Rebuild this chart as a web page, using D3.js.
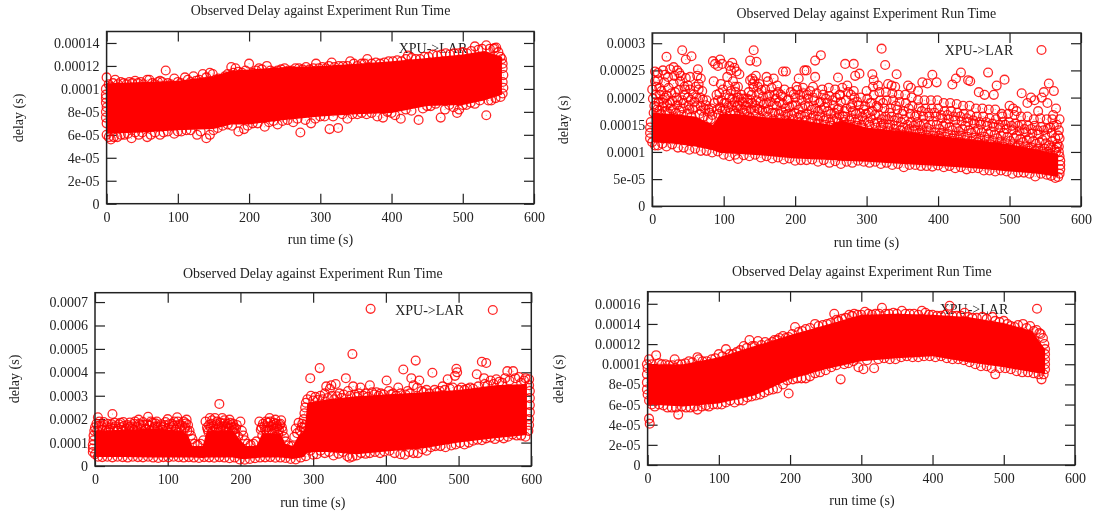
<!DOCTYPE html>
<html>
<head>
<meta charset="utf-8">
<script src="https://cdnjs.cloudflare.com/ajax/libs/d3/7.8.5/d3.min.js"></script>
<style>
html,body{margin:0;padding:0;background:#fff;}
svg{display:block;filter:blur(0.35px);}
text{font-family:"Liberation Serif",serif;fill:#222;}
</style>
</head>
<body>
<script>
"use strict";

// all delays below are in microseconds, run time in seconds
var xTicks = [0,100,200,300,400,500,600];
var xLabels = ["0","100","200","300","400","500","600"];

var yTicks1 = [0,20,40,60,80,100,120,140];
var yLabels1 = ["0","2e-05","4e-05","6e-05","8e-05","0.0001","0.00012","0.00014"];
var yTicks2 = [0,50,100,150,200,250,300];
var yLabels2 = ["0","5e-05","0.0001","0.00015","0.0002","0.00025","0.0003"];
var yTicks3 = [0,100,200,300,400,500,600,700];
var yLabels3 = ["0","0.0001","0.0002","0.0003","0.0004","0.0005","0.0006","0.0007"];
var yTicks4 = [0,20,40,60,80,100,120,140,160];
var yLabels4 = ["0","2e-05","4e-05","6e-05","8e-05","0.0001","0.00012","0.00014","0.00016"];

// solid part of each cloud, where the rings overlap completely
var coreTime1 = [0,50,100,150,175,200,250,300,350,400,450,500,530,555];
var coreHigh1 = [105,106,107,111,116,117,119,120,122,124,127,130,133,128];
var coreLow1 = [61,62,64,65,69,69,73,76,78,79,85,86,90,95];

var coreTime2 = [0,30,60,85,95,120,150,200,250,265,300,350,400,450,500,540,568];
var coreHigh2 = [172,170,165,150,170,170,165,160,150,158,145,138,130,122,114,104,96];
var coreLow2 = [118,115,110,103,98,96,94,88,85,84,82,78,74,70,64,60,54];

var coreTime3 = [0,40,80,120,128,134,148,154,190,200,208,222,230,255,262,272,280,288,292,320,360,400,450,500,550,594];
var coreHigh3 = [150,155,160,150,130,85,85,150,150,110,85,85,140,140,95,85,130,150,270,285,298,305,315,325,345,350];
var coreLow3 = [38,38,36,36,36,36,34,36,36,30,30,34,36,36,34,30,34,40,60,60,50,62,75,100,118,132];

var coreTime4 = [0,50,100,150,200,250,300,350,400,450,500,540,558];
var coreHigh4 = [100,100,107,118,129,139,149,150,149,147,141,133,115];
var coreLow4 = [60,58,61,69,85,95,103,106,108,102,97,92,90];

var rings1 = [[0,110],[3,104],[6,102],[9,105],[12,108],[16,104],[20,106],[24,105],[28,104],[32,106],[36,105],[40,107],[44,105],[48,106],[52,104],[57,108],[60,108],[64,105],[68,104],[72,106],[75,107],[78,106],[83,116],[86,105],[90,104],[95,109],[100,106],[104,105],[110,110],[114,108],[118,106],[122,111],[126,107],[130,108],[135,113],[140,110],[145,114],[149,113],[153,108],[157,109],[162,108],[166,111],[170,113],[175,119],[178,114],[181,118],[185,115],[190,114],[195,116],[200,122],[205,114],[210,116],[214,118],[218,117],[225,120],[230,116],[235,115],[240,116],[245,117],[250,118],[255,116],[260,116],[265,118],[270,118],[275,117],[280,119],[285,117],[294,122],[290,118],[298,118],[303,119],[308,118],[316,123],[312,120],[320,119],[326,120],[332,120],[338,120],[342,124],[347,122],[352,120],[358,122],[366,126],[362,122],[372,122],[378,123],[384,122],[390,123],[396,124],[402,124],[408,125],[414,124],[423,129],[420,126],[428,127],[434,126],[440,126],[446,128],[452,128],[458,130],[464,129],[470,130],[476,131],[482,130],[488,131],[494,131],[500,132],[506,131],[512,133],[517,137],[522,134],[527,135],[533,138],[538,135],[543,135],[547,136],[550,132],[553,128],[555,126],[556,122],
[0,60],[3,58],[6,56],[10,58],[15,58],[20,60],[25,60],[30,61],[35,57],[40,62],[45,60],[50,62],[57,58],[62,60],[68,62],[75,60],[80,62],[86,63],[95,61],[100,63],[105,63],[112,64],[118,64],[127,60],[132,63],[140,57],[145,60],[150,64],[156,66],[163,68],[170,69],[176,68],[185,63],[193,65],[198,68],[205,70],[212,70],[222,67],[228,71],[234,72],[240,69],[247,72],[254,73],[262,71],[268,74],[272,62],[279,73],[287,70],[293,74],[300,76],[306,76],[313,65],[318,76],[325,66],[331,78],[338,74],[345,78],[352,78],[358,79],[365,78],[372,79],[380,76],[388,75],[394,80],[400,79],[405,77],[413,74],[420,82],[428,81],[438,73],[444,83],[450,85],[455,85],[462,87],[469,75],[475,82],[481,86],[487,84],[492,79],[495,82],[500,86],[505,86],[511,88],[517,87],[524,90],[533,77],[536,90],[540,90],[546,92],[553,93],[556,96],
[-1,100],[-1,95],[-1,88],[-1,80],[-1,75],[0,70],[-1,92],[0,84],[556,118],[557,112],[556,106],[557,101]];

var rings2 = [[-3,125],[-3,135],[-3,145],[-2,155],[0,118],[4,112],[8,112],[14,115],[20,110],[28,114],[36,108],[44,108],[52,104],[60,106],[68,102],[76,102],[84,99],[92,101],[100,95],[108,92],[116,95],[120,87],[128,94],[136,92],[144,95],[152,90],[160,92],[168,88],[176,90],[184,86],[192,88],[200,84],[208,85],[216,85],[224,86],[232,82],[240,85],[248,80],[256,83],[264,78],[272,82],[280,80],[288,84],[296,82],[304,80],[312,82],[320,78],[328,80],[336,76],[344,78],[352,72],[360,76],[368,76],[376,74],[384,74],[392,73],[400,75],[408,72],[416,74],[424,70],[432,72],[440,68],[448,70],[456,70],[464,66],[472,66],[480,64],[488,66],[496,64],[504,60],[512,62],[520,62],[528,60],[536,55],[544,60],[552,58],[558,56],[564,52],[568,54],[570,60],[571,68],[571,76],[571,84],[570,92],[569,100],[566,108],
[20,275],[42,287],[47,270],[55,276],[64,252],[4,248],[8,245],[15,250],[18,242],[22,238],[0,215],[6,220],[10,218],[25,252],[30,256],[35,250],[38,245],[40,240],[45,220],[50,222],[53,238],[65,225],[68,235],[85,267],[88,262],[92,258],[95,270],[98,262],[108,258],[110,250],[112,264],[115,255],[118,248],[122,243],[120,220],[116,220],[137,268],[142,287],[146,266],[145,240],[137,232],[140,235],[143,230],[150,225],[160,238],[162,230],[170,235],[183,248],[187,248],[205,235],[213,250],[216,250],[228,268],[236,278],[228,238],[225,220],[260,237],[270,262],[282,262],[284,240],[290,244],[308,243],[310,232],[316,222],[321,290],[326,260],[342,243],[330,225],[335,222],[340,220],[358,222],[362,218],[372,212],[378,228],[385,226],[392,242],[398,228],[420,224],[425,235],[432,246],[442,232],[445,230],[470,246],[493,233],[478,205],[482,222],[457,210],[465,205],[517,208],[535,195],[545,200],[555,226],[548,210],[562,212],[565,180],[553,190],[530,200],[525,190],[500,185],[505,180],[490,165],[510,175],[540,175],[560,160],
[2,172],[3,185],[1,198],[5,205],[4,230],[7,178],[9,192],[11,205],[8,232],[12,170],[14,183],[15,196],[13,212],[17,228],[19,175],[21,188],[20,204],[23,218],[24,170],[26,180],[28,194],[27,208],[30,226],[31,240],[33,172],[35,186],[34,200],[37,214],[39,230],[41,168],[43,180],[42,195],[45,205],[47,236],[49,170],[51,186],[50,200],[53,215],[55,165],[57,178],[59,192],[58,206],[61,220],[63,240],[66,170],[68,184],[67,200],[70,212],[72,165],[74,178],[76,195],[78,160],[80,172],[82,160],[84,168],[87,190],[90,205],[86,230],
[93,170],[95,182],[97,195],[94,208],[96,225],[99,215],[100,165],[102,178],[104,190],[103,205],[106,222],[105,238],[109,172],[111,185],[112,198],[110,212],[113,230],[116,170],[118,182],[119,200],[117,210],[122,168],[124,180],[126,192],[125,205],[129,172],[131,185],[133,198],[135,210],[136,165],[138,178],[140,190],[139,205],[142,218],[141,225],[145,168],[147,180],[146,195],[149,208],[148,220],[152,162],[154,175],[156,188],[155,202],[158,215],[161,165],[163,178],[165,192],[164,205],[167,218],[170,160],[172,172],[174,185],[173,198],[176,210],[175,222],[179,162],[181,175],[183,188],[182,202],[185,215],[188,158],[190,170],[192,183],[191,197],[194,210],[197,160],[199,172],[201,186],[200,200],[203,214],[202,220],[206,155],[208,168],[210,182],[209,195],[212,208],[211,218],[215,158],[217,170],[219,184],[218,198],[221,212],[224,155],[226,167],[228,180],[227,195],[230,208],[233,152],[235,165],[237,178],[236,192],[239,205],[238,215],[242,150],[244,162],[246,175],[245,190],[248,203],[247,218],[251,148],[253,160],[255,172],[254,186],[257,200],[256,215],[260,155],[262,168],[261,180],[264,192],[263,205],[266,218],[268,155],[270,165],[272,180],[271,195],[274,210],[273,222],[277,150],[279,162],[281,175],[280,188],[283,200],[282,212],[286,148],[288,160],[290,172],[289,186],[292,200],[295,145],[297,157],[299,170],[298,184],[301,198],[300,212],
[304,150],[306,162],[308,175],[307,190],[310,205],[309,220],[313,145],[315,155],[317,168],[316,182],[319,195],[318,210],[322,140],[324,152],[326,165],[325,180],[328,195],[327,210],[331,138],[333,150],[335,165],[334,180],[337,195],[336,208],[340,135],[342,148],[344,162],[343,178],[346,192],[345,205],[349,132],[351,145],[353,160],[352,175],[355,190],[354,205],[358,130],[360,142],[362,155],[361,170],[364,185],[363,200],[367,128],[369,140],[371,155],[370,168],[373,182],[372,195],[376,128],[378,140],[380,152],[379,165],[382,180],[381,195],[385,126],[387,138],[389,150],[388,165],[391,180],[390,195],[394,124],[396,136],[398,150],[397,165],[400,180],[399,195],[403,124],[405,135],[407,148],[406,162],[409,175],[408,190],[412,122],[414,133],[416,146],[415,160],[418,175],[417,190],[421,120],[423,130],[425,145],[424,158],[427,172],[426,188],[430,118],[432,130],[434,142],[433,156],[436,170],[435,185],[439,116],[441,128],[443,140],[442,155],[445,168],[444,185],[448,115],[450,126],[452,138],[451,152],[454,165],[453,180],[457,113],[459,124],[461,136],[460,150],[463,165],[462,180],[466,112],[468,122],[470,134],[469,148],[472,162],[471,178],[475,110],[477,120],[479,132],[478,146],[481,160],[480,178],[484,108],[486,118],[488,130],[487,144],[490,155],[489,170],[493,106],[495,116],[497,128],[496,142],[499,155],[498,170],[502,104],[504,114],[506,126],[505,140],[508,152],[507,168],[511,102],[513,112],[515,124],[514,138],[517,150],[516,165],[520,100],[522,110],[524,122],[523,136],[526,148],[525,165],[529,98],[531,108],[533,120],[532,134],[535,148],[534,160],[538,96],[540,106],[542,118],[541,132],[544,146],[543,162],[547,96],[549,106],[551,116],[550,130],[553,142],[552,160],[556,96],[558,108],[560,120],[559,135],[562,148],[561,168],[565,100],[567,115],[568,130],[566,150],
[6,182],[10,176],[16,190],[18,200],[25,190],[29,178],[32,210],[36,195],[38,176],[44,190],[46,215],[52,178],[54,196],[60,182],[62,200],[65,215],[69,176],[71,196],[75,186],[79,178],[83,180],[91,178],[92,195],[98,176],[101,190],[107,182],[108,200],[114,176],[115,192],[120,186],[121,200],[127,178],[128,198],[132,176],[134,190],[137,196],[143,176],[144,186],[150,178],[151,192],[153,214],[159,174],[160,190],[162,202],[168,172],[169,186],[171,205],[177,170],[178,192],[180,205],[186,168],[187,180],[189,195],[195,168],[196,186],[198,206],[204,164],[205,178],[207,205],[213,165],[214,186],[216,205],[222,162],[223,178],[225,200],[231,160],[232,175],[234,190],[240,158],[241,182],[243,198],[249,155],[250,170],[252,195],[258,162],[259,178],[262,205],[267,165],[269,175],[276,158],[278,182],[278,205],[284,155],[285,170],[287,192],[293,150],[294,165],[296,178],[302,155],[303,172],[305,190],[311,152],[312,168],[314,185],[320,148],[321,160],[323,190],[329,145],[330,160],[332,172],[338,142],[339,158],[341,185],[347,140],[348,155],[350,170],[356,138],[357,150],[359,180],[365,138],[366,148],[368,165],[374,135],[375,148],[377,175],[383,132],[384,145],[386,172],[392,130],[393,156],[395,172],[401,130],[402,142],[404,168],[410,128],[411,152],[413,168],[419,125],[420,140],[422,165],[428,125],[429,138],[431,165],[437,122],[438,148],[440,162],[446,120],[447,135],[449,158],[455,118],[456,142],[458,155],[464,116],[465,128],[467,155],[473,114],[474,138],[476,152],[482,112],[483,125],[485,150],[491,110],[492,135],[494,150],[500,108],[501,120],[503,148],[509,108],[510,130],[512,148],[518,105],[519,118],[521,142],[527,102],[528,125],[530,142],[536,102],[537,115],[539,140],[545,100],[546,122],[548,140],[554,100],[555,112],[557,145],[563,104],[564,125],[569,110],[570,125],[569,140],[570,160]];

var rings3 = [[-3,60],[-3,75],[-3,90],[-2,110],[-2,130],[-1,150],[0,165],[4,208],[2,180],[6,190],[9,170],[12,188],[15,150],[18,180],[21,165],[24,222],[27,185],[30,150],[33,178],[36,165],[39,188],[42,148],[45,175],[48,186],[51,160],[54,180],[57,150],[60,198],[63,175],[66,188],[69,160],[73,210],[72,178],[76,150],[79,185],[82,168],[85,190],[88,150],[91,178],[94,165],[97,188],[100,200],[103,155],[106,180],[109,190],[113,208],[112,165],[116,178],[119,150],[122,190],[126,198],[124,165],[128,175],[130,150],[132,130],[134,115],
[137,95],[141,90],[145,95],[149,110],[152,190],[154,165],[156,145],[158,205],[160,180],[162,150],[165,205],[167,178],[169,145],[171,265],[173,160],[175,205],[177,182],[179,150],[181,170],[183,145],[185,198],[187,175],[189,150],[191,165],[193,140],[195,175],[197,125],[200,190],[202,150],[204,130],[206,110],[210,95],[214,90],[218,95],[222,105],
[226,190],[228,155],[230,130],[233,170],[236,150],[238,185],[240,205],[242,170],[244,140],[246,185],[248,198],[250,160],[252,135],[254,175],[256,195],[258,150],[260,125],[262,105],[266,88],[270,85],[274,125],[276,160],[278,140],[280,185],[282,150],[284,165],[285,180],[287,165],[288,130],
[3,150],[5,170],[10,155],[13,175],[16,165],[19,155],[23,178],[25,160],[28,170],[31,160],[35,185],[37,155],[40,172],[43,160],[47,165],[49,170],[53,155],[55,190],[58,168],[61,180],[64,160],[67,175],[70,155],[75,172],[77,190],[80,160],[83,182],[86,165],[90,170],[93,155],[96,175],[99,160],[102,178],[105,165],[108,172],[111,155],[114,190],[117,165],[120,172],[123,160],[125,182],[127,150],[155,155],[157,175],[159,165],[161,195],[163,170],[166,160],[168,190],[170,165],[172,185],[174,170],[176,155],[178,195],[180,165],[182,180],[184,160],[186,185],[188,165],[190,180],[192,155],[194,160],[229,165],[231,180],[234,155],[235,190],[237,165],[239,150],[241,190],[243,155],[245,175],[247,160],[249,180],[251,170],[253,155],[255,180],[257,165],
[0,50],[4,40],[10,38],[17,40],[24,37],[31,40],[38,38],[45,36],[52,40],[59,38],[66,37],[73,40],[80,36],[87,34],[94,38],[101,37],[108,40],[115,38],[122,36],[129,38],[136,36],[143,34],[150,38],[157,37],[164,35],[171,38],[178,36],[185,33],[192,36],[199,28],[206,27],[213,30],[220,33],[227,36],[234,37],[241,38],[248,35],[255,36],[262,34],[269,30],[276,28],[283,36],[290,42],
[290,270],[292,285],[289,250],[288,225],[287,200],[289,175],[290,150],[291,120],[292,95],[294,75],[296,375],[297,300],[300,280],[303,295],[306,282],[309,418],[310,300],[313,285],[316,310],[318,340],[320,290],[323,330],[325,345],[326,300],[329,285],[331,350],[333,298],[336,310],[339,290],[342,305],[345,375],[348,320],[351,300],[354,478],[355,340],[357,305],[360,295],[363,310],[365,335],[369,300],[372,310],[375,295],[378,345],[381,315],[384,305],[387,315],[390,300],[393,310],[397,305],[401,365],[404,320],[407,305],[410,310],[414,300],[417,335],[420,310],[424,412],[427,305],[430,320],[433,310],[435,375],[438,345],[441,450],[443,335],[446,365],[449,320],[452,315],[456,325],[460,310],[464,398],[467,325],[470,315],[474,320],[478,340],[481,325],[485,370],[488,330],[492,335],[495,385],[497,415],[498,400],[500,325],[504,335],[508,325],[512,330],[516,335],[520,330],[525,392],[527,340],[532,445],[535,375],[538,440],[536,350],[540,345],[544,365],[548,350],[552,370],[556,360],[560,355],[564,375],[567,405],[570,365],[575,405],[578,375],[583,380],[586,355],[590,365],[592,375],[597,370],[597,345],[598,320],[598,290],[598,260],[598,230],[597,200],[597,175],[596,150],
[296,65],[300,48],[305,50],[310,65],[316,55],[322,60],[328,45],[335,52],[341,60],[347,42],[350,35],[354,40],[360,45],[366,55],[372,52],[378,55],[385,60],[392,55],[398,62],[405,65],[412,55],[420,50],[426,48],[432,60],[438,55],[444,55],[450,72],[456,65],[462,80],[468,85],[475,85],[482,80],[490,88],[496,92],[502,98],[508,92],[514,100],[520,108],[526,112],[532,110],[538,118],[544,122],[550,115],[556,125],[562,118],[568,125],[574,135],[580,130],[586,130],[592,125],[379,671]];

var rings4 = [[-1,100],[2,105],[6,100],[0,96],[12,109],[16,101],[20,100],[25,100],[30,99],[35,99],[38,105],[43,100],[48,100],[53,101],[58,103],[63,102],[70,107],[72,105],[77,103],[83,103],[90,105],[95,106],[100,110],[105,108],[110,115],[115,110],[120,110],[125,112],[130,114],[135,118],[139,116],[143,124],[147,118],[150,118],[155,123],[160,119],[165,122],[170,120],[175,122],[178,124],[182,124],[185,126],[190,128],[194,126],[198,127],[203,130],[207,137],[212,132],[217,133],[222,135],[228,136],[235,140],[240,138],[246,139],[252,140],[257,141],[262,150],[265,144],[268,143],[273,145],[278,146],[283,149],[287,148],[290,150],[295,149],[300,149],[305,152],[310,150],[315,149],[320,150],[325,150],[329,156],[334,150],[339,150],[345,151],[350,150],[357,153],[362,150],[368,150],[374,150],[380,149],[385,153],[390,151],[395,149],[400,149],[406,148],[412,148],[418,149],[424,158],[428,148],[434,148],[440,148],[445,151],[450,147],[456,146],[462,146],[470,147],[476,145],[484,147],[488,143],[494,142],[500,143],[505,140],[510,138],[515,137],[520,139],[527,140],[532,136],[537,138],[542,133],[546,134],[550,131],[552,130],[555,126],[557,120],[558,115],[558,110],[558,105],[558,100],[558,95],
[-1,90],[-1,82],[-1,75],[0,70],[2,64],[2,46],[3,41],[6,60],[10,58],[16,60],[22,59],[28,57],[34,57],[43,50],[40,57],[48,58],[54,57],[60,57],[70,55],[66,58],[76,58],[82,59],[86,58],[92,60],[98,60],[104,60],[110,62],[116,64],[122,62],[128,64],[134,64],[140,67],[146,68],[152,69],[158,70],[164,72],[170,74],[176,75],[182,76],[190,80],[198,71],[196,84],[204,85],[210,86],[216,86],[222,86],[228,88],[235,91],[242,92],[250,94],[258,97],[265,99],[271,85],[276,100],[282,101],[289,103],[296,97],[303,95],[308,104],[318,96],[324,105],[332,106],[340,105],[348,105],[356,107],[364,108],[372,107],[380,107],[388,108],[396,108],[404,107],[412,108],[420,106],[428,105],[436,105],[444,104],[452,102],[460,100],[468,98],[476,98],[483,96],[488,90],[494,96],[502,96],[510,95],[518,93],[526,92],[534,92],[542,91],[549,90],[553,85],[556,90]];

var titleText = "Observed Delay against Experiment Run Time";
var keyText = "XPU->LAR";

// frame and label positions of each panel
var panels = [
  {left:106.6,right:534,top:31.5,bottom:203.7,yMax:150,yTicks:yTicks1,yLabels:yLabels1,time:coreTime1,high:coreHigh1,low:coreLow1,rings:rings1,
   titleX:320.5,titleY:10,xLabelY:239.3,yLabelX:18,yLabelY:118,keyX:433,keyY:48,sampleX:494.6},
  {left:652.2,right:1081,top:33,bottom:206.3,yMax:318.8,yTicks:yTicks2,yLabels:yLabels2,time:coreTime2,high:coreHigh2,low:coreLow2,rings:rings2,
   titleX:866.4,titleY:12.7,xLabelY:241.7,yLabelX:562.7,yLabelY:120,keyX:979,keyY:50,sampleX:1041.5},
  {left:95,right:531.3,top:292.7,bottom:466,yMax:740,yTicks:yTicks3,yLabels:yLabels3,time:coreTime3,high:coreHigh3,low:coreLow3,rings:rings3,
   titleX:312.8,titleY:272.7,xLabelY:501.7,yLabelX:14,yLabelY:379,keyX:429.5,keyY:310,sampleX:492.8},
  {left:647.6,right:1075,top:291.7,bottom:465,yMax:172,yTicks:yTicks4,yLabels:yLabels4,time:coreTime4,high:coreHigh4,low:coreLow4,rings:rings4,
   titleX:861.9,titleY:271.3,xLabelY:500.3,yLabelX:558.5,yLabelY:379,keyX:974,keyY:308.7,sampleX:1037}
];

var svg = d3.select("body").append("svg")
  .attr("width",1096)
  .attr("height",513);

function drawPanel(p){
  var x = d3.scaleLinear().domain([0,600]).range([p.left,p.right]);
  var y = d3.scaleLinear().domain([0,p.yMax]).range([p.bottom,p.top]);
  var g = svg.append("g");

  // ticks go on all four sides, labels only bottom and left
  var bottomAxis = g.append("g")
    .attr("transform","translate(0,"+p.bottom+")")
    .call(d3.axisBottom(x).tickValues(xTicks).tickFormat(function(d,i){return xLabels[i];}).tickSize(-10).tickPadding(-1));
  g.append("g")
    .attr("transform","translate(0,"+p.top+")")
    .call(d3.axisTop(x).tickValues(xTicks).tickFormat("").tickSize(-10));
  g.append("g")
    .attr("transform","translate("+p.left+",0)")
    .call(d3.axisLeft(y).tickValues(p.yTicks).tickFormat(function(d,i){return p.yLabels[i];}).tickSize(-10).tickPadding(7));
  g.append("g")
    .attr("transform","translate("+p.right+",0)")
    .call(d3.axisRight(y).tickValues(p.yTicks).tickFormat("").tickSize(-10));

  g.selectAll(".domain").remove();
  g.selectAll(".tick line").attr("stroke","#222").attr("stroke-width",1.2);
  g.selectAll(".tick text").attr("font-size",14).attr("font-family","Liberation Serif").attr("fill","#222");
  bottomAxis.selectAll(".tick text").attr("dy","1.35em");

  g.append("text").attr("x",p.titleX).attr("y",p.titleY).attr("dy","0.35em")
    .attr("text-anchor","middle").attr("font-size",13.9).text(titleText);
  g.append("text").attr("x",p.titleX).attr("y",p.xLabelY).attr("dy","0.35em")
    .attr("text-anchor","middle").attr("font-size",14).text("run time (s)");
  g.append("text").attr("text-anchor","middle").attr("font-size",14)
    .attr("transform","translate("+p.yLabelX+","+p.yLabelY+") rotate(-90)")
    .attr("dy","0.35em").text("delay (s)");
  g.append("text").attr("x",p.keyX).attr("y",p.keyY).attr("dy","0.35em")
    .attr("text-anchor","middle").attr("font-size",14).text(keyText);

  var band = d3.area()
    .x(function(d){return x(d);})
    .y0(function(d,i){return y(p.low[i]);})
    .y1(function(d,i){return y(p.high[i]);});
  g.append("path").attr("d",band(p.time)).attr("fill","#ff0000");

  g.append("g").selectAll("circle")
    .data(p.rings)
    .enter()
    .append("circle")
    .attr("cx",function(d){return x(d[0]);})
    .attr("cy",function(d){return y(d[1]);})
    .attr("r",4.4)
    .attr("fill","none")
    .attr("stroke","#ff0000")
    .attr("stroke-opacity",0.85)
    .attr("stroke-width",1.3);

  // the little dot gnuplot leaves in the middle of each ring
  g.append("g").selectAll("circle")
    .data(p.rings)
    .enter()
    .append("circle")
    .attr("cx",function(d){return x(d[0]);})
    .attr("cy",function(d){return y(d[1]);})
    .attr("r",0.5)
    .attr("fill","#ff0000")
    .attr("fill-opacity",0.6);

  // key sample
  g.append("circle").attr("cx",p.sampleX).attr("cy",p.keyY).attr("r",4.4)
    .attr("fill","none").attr("stroke","#ff0000").attr("stroke-opacity",0.85).attr("stroke-width",1.3);

  g.append("rect")
    .attr("x",p.left).attr("y",p.top)
    .attr("width",p.right-p.left).attr("height",p.bottom-p.top)
    .attr("fill","none").attr("stroke","#222").attr("stroke-width",1.5);
}

panels.forEach(drawPanel);
</script>
</body>
</html>
